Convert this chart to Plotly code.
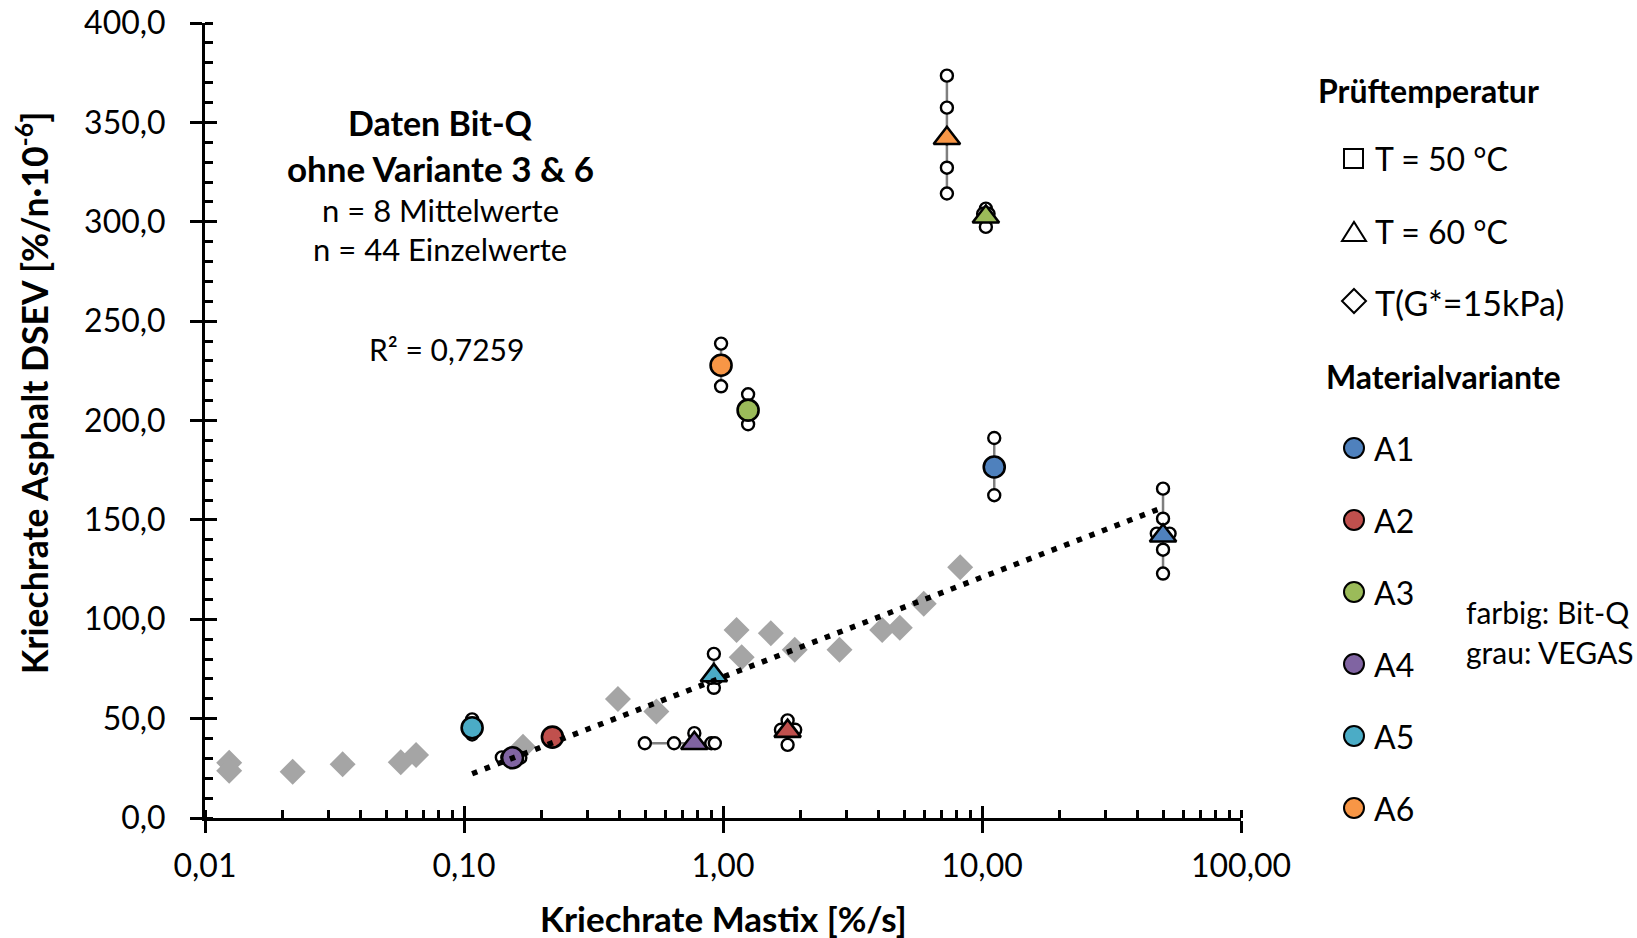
import numpy as np
import plotly.graph_objects as go

# ---------------- data ----------------
# VEGAS (grey diamonds)
vegas_x = [0.0124, 0.0124, 0.0218, 0.0340, 0.0570, 0.0653, 0.169, 0.393, 0.553,
           1.128, 1.181, 1.53, 1.893, 2.817, 4.117, 4.816, 5.958, 8.237]
vegas_y = [27.8, 23.8, 23.3, 27.0, 28.0, 31.7, 35.9, 59.9, 53.6,
           94.6, 80.9, 93.0, 84.6, 84.6, 94.6, 95.7, 107.8, 126.2]

variants = ["A1", "A2", "A3", "A4", "A5", "A6"]
variant_colors = ["#4F81BD", "#C0504D", "#9BBB59", "#8064A2", "#4BACC6", "#F79646"]

# Bit-Q mean values, T = 50 °C (circles) and T = 60 °C (triangles)
mean50_x = [11.15, 0.2195, 1.25, 0.154, 0.1075, 0.983]
mean50_y = [176.6, 40.7, 205.2, 30.3, 45.4, 227.8]
mean60_x = [50.0, 1.776, 10.35, 0.775, 0.922, 7.32]
mean60_y = [142.0, 43.7, 302.5, 37.6, 71.7, 342.0]

# Bit-Q individual values
a1_50_x = [11.15, 11.15, 11.15]
a1_50_y = [191.2, 176.6, 162.4]
a2_50_x = [0.2195, 0.2195]
a2_50_y = [41.5, 40.0]
a3_50_x = [1.25, 1.25]
a3_50_y = [213.2, 198.1]
a4_50_x = [0.140, 0.147, 0.165]
a4_50_y = [30.5, 30.5, 30.3]
a5_50_x = [0.1075, 0.1075, 0.1075]
a5_50_y = [49.6, 45.0, 42.0]
a6_50_x = [0.983, 0.983]
a6_50_y = [238.7, 217.2]

a1_60_x = [50.0, 50.0, 47.3, 53.0, 50.0, 50.0]
a1_60_y = [165.7, 150.6, 143.1, 143.1, 135.0, 123.0]
a2_60_x = [1.776, 1.674, 1.90, 1.776]
a2_60_y = [49.1, 44.4, 44.4, 36.8]
a3_60_x = [10.35, 10.1, 10.6, 10.35]
a3_60_y = [306.6, 304.0, 304.0, 297.4]
a4_60_x = [0.499, 0.647, 0.775, 0.901, 0.930]
a4_60_y = [37.6, 37.6, 42.7, 37.6, 37.6]
a5_60_x = [0.922, 0.922, 0.90, 0.945]
a5_60_y = [82.6, 65.5, 70.5, 70.5]
a6_60_x = [7.32, 7.32, 7.32, 7.32, 7.32]
a6_60_y = [373.5, 357.4, 342.0, 327.2, 314.2]

ind50 = [(a1_50_x, a1_50_y), (a2_50_x, a2_50_y), (a3_50_x, a3_50_y),
         (a4_50_x, a4_50_y), (a5_50_x, a5_50_y), (a6_50_x, a6_50_y)]
ind60 = [(a1_60_x, a1_60_y), (a2_60_x, a2_60_y), (a3_60_x, a3_60_y),
         (a4_60_x, a4_60_y), (a5_60_x, a5_60_y), (a6_60_x, a6_60_y)]

# trend (log fit) over Bit-Q means without variants 3 & 6
fit_variants = ["A1", "A2", "A4", "A5"]

y_ticks = [0, 50, 100, 150, 200, 250, 300, 350, 400]
x_ticks = [0.01, 0.1, 1, 10, 100]

# ---------------- geometry helpers ----------------
W_FIG, H_FIG = 1637, 938
L, R, T, B = 205, 1241, 23, 818
PW, PH = R - L, B - T


def px(xp):
    return (xp - L) / PW


def py(yp):
    return (B - yp) / PH


FONT = "Lato"

fig = go.Figure()

# grey VEGAS diamonds
fig.add_trace(go.Scatter(x=vegas_x, y=vegas_y, mode="markers",
                         marker=dict(symbol="diamond", size=20, color="#A5A5A5",
                                     line=dict(width=0)),
                         hoverinfo="skip", showlegend=False))


def add_group(mx, my, ix, iy, color, symbol, msize):
    ex_p = max(ix) - mx
    ex_m = mx - min(ix)
    ey_p = max(iy) - my
    ey_m = my - min(iy)
    has_x = (ex_p + ex_m) > 0.15 * mx
    # whiskers
    fig.add_trace(go.Scatter(
        x=[mx], y=[my], mode="markers",
        marker=dict(size=1, color="rgba(0,0,0,0)"),
        error_y=dict(type="data", symmetric=False, array=[max(ey_p, 0)],
                     arrayminus=[max(ey_m, 0)], color="#7F7F7F", thickness=2.5, width=0),
        error_x=dict(type="data", symmetric=False, array=[ex_p if has_x else 0],
                     arrayminus=[ex_m if has_x else 0], color="#7F7F7F",
                     thickness=2.5, width=0, visible=has_x),
        hoverinfo="skip", showlegend=False))
    # individual values
    fig.add_trace(go.Scatter(
        x=ix, y=iy, mode="markers",
        marker=dict(symbol="circle", size=12, color="white",
                    line=dict(color="black", width=2.4)),
        hoverinfo="skip", showlegend=False))
    # mean
    fig.add_trace(go.Scatter(
        x=[mx], y=[my], mode="markers",
        marker=dict(symbol=symbol, size=msize, color=color,
                    line=dict(color="black", width=2.6)),
        hoverinfo="skip", showlegend=False))


for i, v in enumerate(variants):
    add_group(mean50_x[i], mean50_y[i], ind50[i][0], ind50[i][1],
              variant_colors[i], "circle", 21)
    add_group(mean60_x[i], mean60_y[i], ind60[i][0], ind60[i][1],
              variant_colors[i], "triangle-up", 23)

# logarithmic trend line
fx = [mean50_x[variants.index(v)] for v in fit_variants] + \
     [mean60_x[variants.index(v)] for v in fit_variants]
fy = [mean50_y[variants.index(v)] for v in fit_variants] + \
     [mean60_y[variants.index(v)] for v in fit_variants]
slope, icpt = np.polyfit(np.log10(fx), fy, 1)
tx = np.array([min(fx), max(fx)])
ty = slope * np.log10(tx) + icpt
fig.add_trace(go.Scatter(x=tx, y=ty, mode="lines",
                         line=dict(color="black", width=5.5, dash="5.5px,8px"),
                         hoverinfo="skip", showlegend=False))

# dummy trace for the overlay axes (inner half of major ticks)
fig.add_trace(go.Scatter(x=[1], y=[0], xaxis="x2", yaxis="y2", mode="markers",
                         marker=dict(opacity=0), hoverinfo="skip", showlegend=False))

axis_common = dict(showline=True, linecolor="black", linewidth=3, showgrid=False,
                   zeroline=False, ticks="outside", ticklen=12, tickwidth=3,
                   automargin=False,
                   tickcolor="black", tickfont=dict(family=FONT, size=32, color="black"))

fig.update_layout(
    template="none",
    width=W_FIG, height=H_FIG,
    margin=dict(l=L, r=W_FIG - R, t=T, b=H_FIG - B, autoexpand=False),
    paper_bgcolor="white", plot_bgcolor="white",
    separators=",.",
    showlegend=False,
    font=dict(family=FONT, color="black"),
    xaxis=dict(type="log", range=[-2, 2], tickvals=x_ticks, tickformat=".2f",
               minor=dict(ticks="inside", ticklen=8, tickwidth=2.5, tickcolor="black",
                          dtick="D1", showgrid=False),
               ticklabelstandoff=6,
               **axis_common),
    yaxis=dict(range=[0, 400], tickvals=y_ticks, tickformat=".1f",
               minor=dict(ticks="inside", ticklen=8, tickwidth=2.5, tickcolor="black",
                          dtick=10, showgrid=False),
               ticklabelstandoff=18,
               **axis_common),
    xaxis2=dict(type="log", range=[-2, 2], tickvals=x_ticks, overlaying="x", anchor="y2",
                ticks="inside", ticklen=12, tickwidth=3, tickcolor="black", automargin=False,
                showticklabels=False, showgrid=False, zeroline=False, showline=False),
    yaxis2=dict(range=[0, 400], tickvals=y_ticks, overlaying="y", anchor="x2",
                ticks="inside", ticklen=12, tickwidth=3, tickcolor="black", automargin=False,
                showticklabels=False, showgrid=False, zeroline=False, showline=False),
)

annotations = []


def ann(text, xp, yp, size, bold=False, xanchor="center", textangle=0):
    if bold:
        text = "<b>" + text + "</b>"
    annotations.append(dict(text=text, x=px(xp), y=py(yp), xref="paper", yref="paper",
                            xanchor=xanchor, yanchor="middle", showarrow=False,
                            textangle=textangle,
                            font=dict(family=FONT, size=size, color="black")))


# axis titles
ann("Kriechrate Mastix [%/s]", 723, 918, 35, bold=True)
ann("Kriechrate Asphalt DSEV [%/n·10<sup>-6</sup>]", 32, 393, 35.5, bold=True, textangle=-90)

# in-plot text
ann("Daten Bit-Q", 440, 123, 34, bold=True)
ann("ohne Variante 3 &amp; 6", 440, 168, 35, bold=True)
ann("n = 8 Mittelwerte", 440, 210, 31)
ann("n = 44 Einzelwerte", 440, 249, 31)
ann("R² = 0,7259", 446, 349, 30)

# legend
ann("Prüftemperatur", 1316, 91, 32, bold=True, xanchor="left")
ann("T = 50 °C", 1373, 159, 32, xanchor="left")
ann("T = 60 °C", 1373, 231, 32, xanchor="left")
ann("T(G*=15kPa)", 1373, 302, 34, xanchor="left")
ann("Materialvariante", 1324, 376, 32, bold=True, xanchor="left")
leg_y = [448, 520, 592, 664, 736, 808]
for v, yy in zip(variants, leg_y):
    ann(v, 1372, yy, 32, xanchor="left")
ann("farbig: Bit-Q", 1464, 612, 30, xanchor="left")
ann("grau: VEGAS", 1464, 652, 30, xanchor="left")

shapes = []
# open symbols for temperatures
shapes.append(dict(type="rect", xref="paper", yref="paper",
                   x0=px(1344), x1=px(1363), y0=py(168), y1=py(149),
                   line=dict(color="black", width=2)))


def path(points):
    return "M " + " L ".join(f"{px(a):.5f},{py(b):.5f}" for a, b in points) + " Z"


shapes.append(dict(type="path", xref="paper", yref="paper",
                   path=path([(1342, 241), (1366, 241), (1354, 222)]),
                   line=dict(color="black", width=2)))
shapes.append(dict(type="path", xref="paper", yref="paper",
                   path=path([(1354, 289), (1366, 301), (1354, 313), (1342, 301)]),
                   line=dict(color="black", width=2)))
for c, yy in zip(variant_colors, leg_y):
    shapes.append(dict(type="circle", xref="paper", yref="paper",
                       x0=px(1344), x1=px(1364), y0=py(yy + 10), y1=py(yy - 10),
                       fillcolor=c, line=dict(color="black", width=2)))

fig.update_layout(annotations=annotations, shapes=shapes)

fig.write_html("out.html")
